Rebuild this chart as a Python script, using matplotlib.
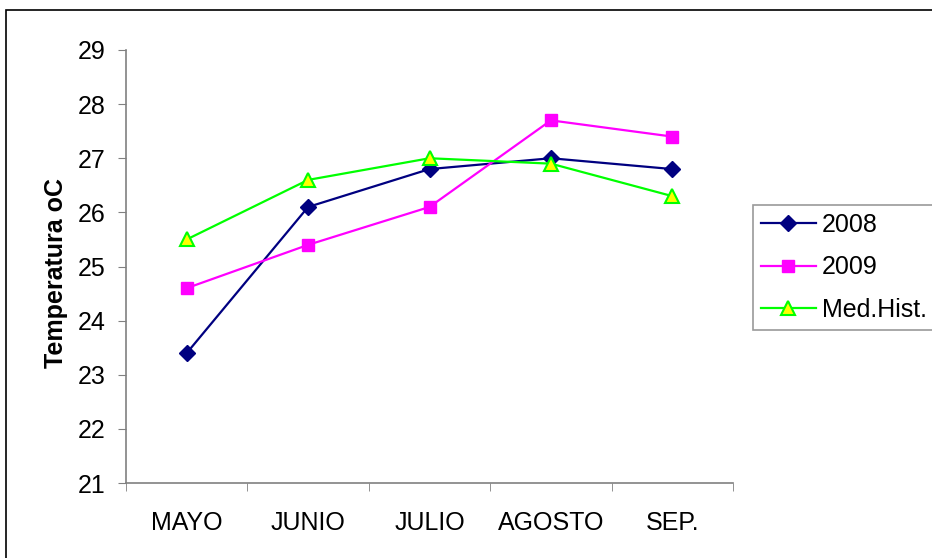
import matplotlib.pyplot as plt
from matplotlib.patches import Rectangle
from matplotlib.ticker import FixedLocator

plt.rcParams['font.family'] = ['Liberation Sans', 'DejaVu Sans']

months = ['MAYO', 'JUNIO', 'JULIO', 'AGOSTO', 'SEP.']
t_2008 = [23.4, 26.1, 26.8, 27.0, 26.8]
t_2009 = [24.6, 25.4, 26.1, 27.7, 27.4]
t_hist = [25.5, 26.6, 27.0, 26.9, 26.3]

fig = plt.figure(figsize=(9.32, 5.58), dpi=100)
ax = fig.add_axes([0.1352, 0.1344, 0.6513, 0.776])

x = list(range(len(months)))
ax.plot(x, t_2008, color='#000080', lw=1.6, marker='D', ms=8.5,
        mfc='#000080', mec='#000080', label='2008')
ax.plot(x, t_2009, color='#FF00FF', lw=1.6, marker='s', ms=8.5,
        mfc='#FF00FF', mec='#FF00FF', label='2009')
ax.plot(x, t_hist, color='#00FF00', lw=1.6, marker='^', ms=9.5,
        mfc='#FFFF00', mec='#00FF00', mew=1.5, label='Med.Hist.')

ax.set_xlim(-0.5, len(months) - 0.5)
ax.set_ylim(21, 29)
ax.set_yticks(range(21, 30))
ax.set_xticks(x)
ax.set_xticklabels(months)
ax.xaxis.set_minor_locator(FixedLocator([i - 0.5 for i in range(len(months) + 1)]))
ax.tick_params(axis='x', which='major', length=0, pad=20, labelsize=18)
ax.tick_params(axis='x', which='minor', length=6, color='#808080', direction='out')
ax.tick_params(axis='y', length=6, color='#808080', direction='out', labelsize=18, pad=9)

for s in ['top', 'right']:
    ax.spines[s].set_visible(False)
for s in ['left', 'bottom']:
    ax.spines[s].set_color('#808080')
    ax.spines[s].set_linewidth(1.2)

ax.set_ylabel('Temperatura oC', fontsize=18, fontweight='bold')
ax.yaxis.set_label_coords(-0.095, 0.486)

leg = ax.legend(loc='upper left', bbox_to_anchor=(753 / 932, 1 - 205 / 558), bbox_transform=fig.transFigure,
                fontsize=18, frameon=True, fancybox=False, edgecolor='#808080',
                handlelength=2.2, borderpad=0.3, labelspacing=0.75, handletextpad=0.25,
                borderaxespad=0)
leg.get_frame().set_linewidth(1.2)

# outer chart border (left and top visible)
fig.patches.append(Rectangle((6 / 932, -0.1), 1.2, 1 - 10 / 558 + 0.1,
                             transform=fig.transFigure, fill=False,
                             edgecolor='black', lw=1.2))

fig.savefig('out.png', dpi=100, facecolor='white')
